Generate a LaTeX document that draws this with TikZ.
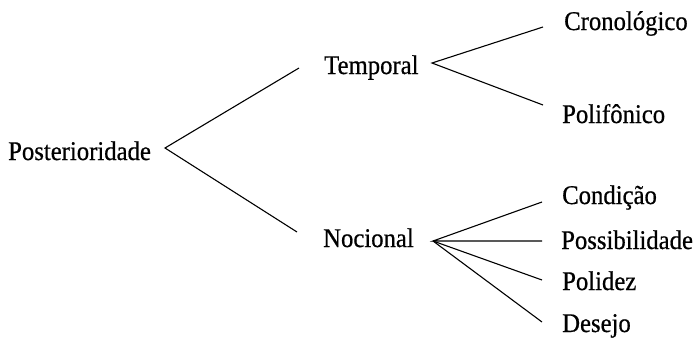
\documentclass[tikz,border=0pt]{standalone}
\usepackage{fontspec}
\setmainfont[FakeStretch=0.915,FakeBold=0.6]{Liberation Serif}
\begin{document}
\begin{tikzpicture}[x=1pt,y=-1pt,
  lbl/.style={anchor=base west,inner sep=0pt,font=\fontsize{27}{32}\selectfont},
  br/.style={line width=1.1pt}]
\useasboundingbox (0,0) rectangle (699,338);
\node[lbl] (post) at (8,160) {Posterioridade};
\node[lbl] (temp) at (324,74) {Temporal};
\node[lbl] (noc) at (323,247) {Nocional};
\node[lbl] (cron) at (564,30) {Cronológico};
\node[lbl] (poli) at (562,123) {Polifônico};
\node[lbl] (cond) at (562,204) {Condição};
\node[lbl] (poss) at (561,249) {Possibilidade};
\node[lbl] (pold) at (562,290) {Polidez};
\node[lbl] (des) at (562,332) {Desejo};
% branch points
\coordinate (postA) at (165,148);
\coordinate (tempL) at (299,68);
\coordinate (nocL) at (297,232);
\coordinate (tempA) at (432,63);
\coordinate (cronL) at (543,27);
\coordinate (poliL) at (543,105);
\coordinate (nocA) at (433,241);
\coordinate (condL) at (542,202);
\coordinate (possL) at (542,241);
\coordinate (poldL) at (542,280);
\coordinate (desL) at (542,322);
\draw[br] (tempL) -- (postA) -- (nocL);
\draw[br] (cronL) -- (tempA) -- (poliL);
\draw[br] (condL) -- (nocA) -- (possL);
\draw[br] (nocA) -- (poldL);
\draw[br] (nocA) -- (desL);
\end{tikzpicture}
\end{document}
